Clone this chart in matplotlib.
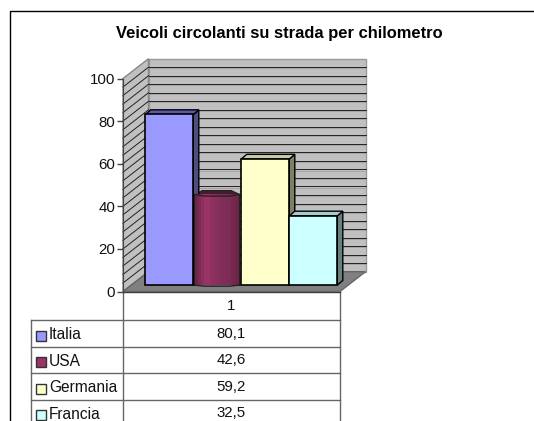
import matplotlib
matplotlib.use('Agg')
import matplotlib.pyplot as plt
from matplotlib.patches import Polygon, Rectangle

plt.rcParams['font.family'] = ['Liberation Sans', 'DejaVu Sans']

title = 'Veicoli circolanti su strada per chilometro'
categories = ['Italia', 'USA', 'Germania', 'Francia']
values = [80.1, 42.6, 59.2, 32.5]
value_labels = ['80,1', '42,6', '59,2', '32,5']
front_colors = ['#9999FF', '#993366', '#FFFFCC', '#CCFFFF']
top_colors = ['#5A5AA8', '#6E2548', '#CCCCA3', '#A3CCCC']
side_colors = ['#4D4D80', '#6E2548', '#808066', '#668080']
y_ticks = [0, 20, 40, 60, 80, 100]

W, H = 534, 421
fig = plt.figure(figsize=(W / 100, H / 100), dpi=100)

# overlay in pixel coords for border, title and the table
bg = fig.add_axes([0, 0, 1, 1])
bg.set_xlim(0, W)
bg.set_ylim(H, 0)
bg.axis('off')
bg.plot([9.5, 9.5, W], [H, 11, 11], color='black', lw=1)
bg.text(279.5, 33.5, title, ha='center', va='center', fontsize=11.9, fontweight='bold')

# front plane of the plot
left, right, top, bottom = 123, 340, 78.5, 291.5
ax = fig.add_axes([left / W, 1 - bottom / H, (right - left) / W, (bottom - top) / H])
ax.set_xlim(0, right - left)
ax.set_ylim(0, 100)
ax.patch.set_visible(False)
for s in ['top', 'right', 'bottom']:
    ax.spines[s].set_visible(False)
ax.spines['left'].set_color('#444444')
ax.set_xticks([])
ax.set_yticks(y_ticks)
ax.tick_params(axis='y', length=4, width=1, color='#444444', labelsize=10.8, pad=1.5, labelcolor='#111111')

dx, dy = 25.5, 9.3  # wall depth
wall_grey = '#C0C0C0'
ax.add_patch(Polygon([(dx, dy), (right - left + dx, dy), (right - left + dx, 100 + dy), (dx, 100 + dy)],
                     fc=wall_grey, ec='#999999', lw=1, clip_on=False))
ax.add_patch(Polygon([(0, 0), (dx, dy), (dx, 100 + dy), (0, 100)],
                     fc=wall_grey, ec='#888888', lw=1, clip_on=False))
ax.add_patch(Polygon([(0, 0), (right - left, 0), (right - left + dx, dy), (dx, dy)],
                     fc='#808080', ec='#666666', lw=1, clip_on=False))
for g in range(4, 100, 4):
    ax.plot([dx, right - left + dx], [g + dy, g + dy], color='#222222', lw=0.7, clip_on=False)
    ax.plot([dx, right - left + dx], [g + dy - 0.5, g + dy - 0.5], color='#9a9a9a', lw=0.5, clip_on=False)
    ax.plot([0, dx], [g, g + dy], color='#222222', lw=0.7, clip_on=False)

# bars stand a little in front of the back wall
base = 3
bar_x = 22.3
bar_w = 48
bx, by = 5.5, 2.2
for i, (v, fc, tc, sc) in enumerate(zip(values, front_colors, top_colors, side_colors)):
    x0 = bar_x + i * bar_w
    x1 = x0 + bar_w
    t = base + v
    if categories[i] == 'USA':
        # cylinder: dark edges, lighter middle
        x0c, x1c = x0 + 1, x1 - 2
        n = 14
        shades = ['#6E2548', '#7E2B54', '#8C305C', '#993366', '#993366', '#8E315E', '#883060',
                  '#84305C', '#802E58', '#802E58', '#7C2C56', '#78294F', '#72274C', '#6E2548']
        ax.add_patch(Polygon([(x0c, t), (x0c + 8, t + 1.8), (x1c - 8, t + 1.8), (x1c, t)],
                             fc='#4A1830', ec='#222222', lw=0.8))
        for k in range(n):
            ax.add_patch(Rectangle((x0c + k * (x1c - x0c) / n, base), (x1c - x0c) / n, v,
                                   fc=shades[k], ec='none', clip_on=False, zorder=3))
        ax.plot([x0c, x0c + 10, x1c - 10, x1c], [t, t - 0.8, t - 0.8, t], color='#222222', lw=1, zorder=4)
        ax.plot([x0c, x0c + 10, x1c - 10, x1c], [base, base - 0.5, base - 0.5, base], color='#222222', lw=1, zorder=4)
        ax.plot([x0c, x0c], [base, t], color='#222222', lw=0.8, zorder=4)
        ax.plot([x1c, x1c], [base, t], color='#222222', lw=0.8, zorder=4)
        continue
    ax.add_patch(Polygon([(x1, base), (x1 + bx, base + by), (x1 + bx, t + by), (x1, t)],
                         fc=sc, ec='black', lw=1, clip_on=False, zorder=2))
    ax.add_patch(Polygon([(x0, t), (x1, t), (x1 + bx, t + by), (x0 + bx, t + by)],
                         fc=tc, ec='black', lw=1, clip_on=False, zorder=2))
    ax.add_patch(Rectangle((x0, base), bar_w, v, fc=fc, ec='black', lw=1.2, clip_on=False, zorder=5))

# data table
row_y = [320, 346.5, 373, 399.5, 426]
table_c = '#666666'
bg.plot([left, left], [bottom, H], color=table_c, lw=1)
bg.plot([right, right], [bottom, H], color=table_c, lw=1)
bg.plot([31, 31], [row_y[0], H], color=table_c, lw=1)
bg.plot([left, right], [bottom, bottom], color='#333333', lw=1)
for y in row_y[:-1]:
    bg.plot([31, right], [y, y], color=table_c, lw=1)
bg.text((left + right) / 2, 305.5, '1', ha='center', va='center', fontsize=10.8, color='#111111')
for i, c in enumerate(categories):
    yc = (row_y[i] + row_y[i + 1]) / 2
    bg.add_patch(Rectangle((35.5, yc - 2.5), 10, 10, fc=front_colors[i], ec='#333333', lw=1))
    bg.text(49, yc + 1.5, c, ha='left', va='center', fontsize=11.2, color='#111111')
    bg.text(231, yc + 0.5, value_labels[i], ha='center', va='center', fontsize=10.8, color='#111111')

fig.savefig('out.png', dpi=100)
